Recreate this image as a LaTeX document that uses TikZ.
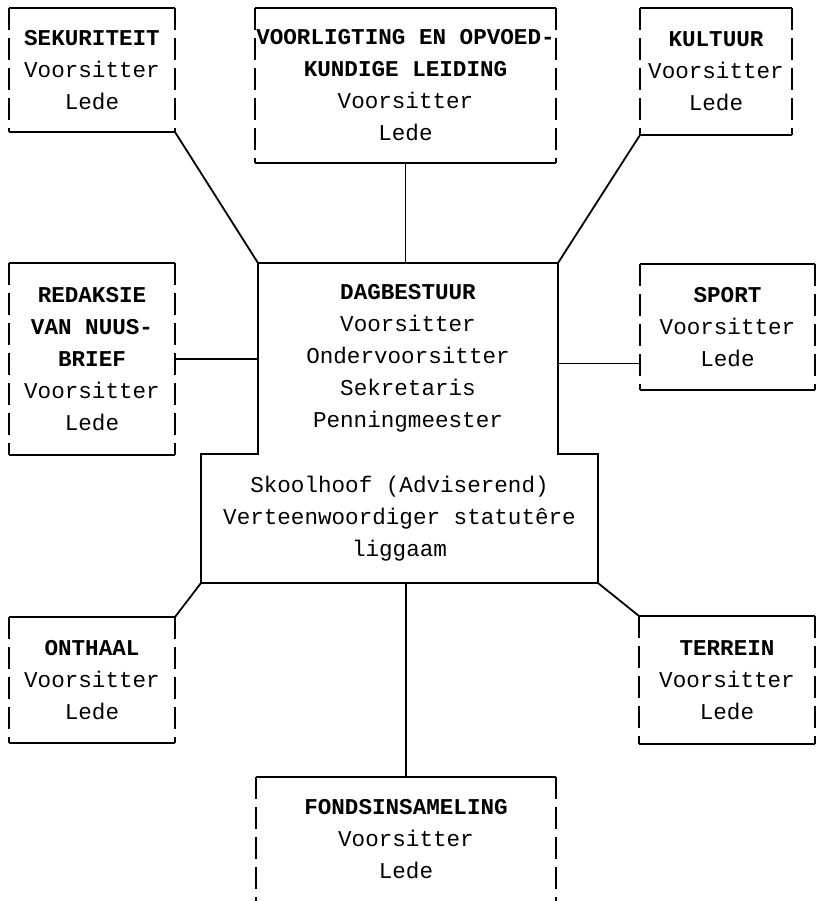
\documentclass[tikz,border=0pt]{standalone}
\usepackage{fontspec}
\setmonofont{Liberation Mono}
\usepackage{tikz}
\usetikzlibrary{calc}

\begin{document}
\begin{tikzpicture}[x=0.5pt, y=-0.5pt, line width=0.9pt,
	komitee/.style={inner sep=0pt, outer sep=0pt, align=center, font=\ttfamily\fontsize{11.3}{16}\selectfont},
	zijkant/.style={dash pattern=on 11pt off 4pt}]
				\useasboundingbox (0,0) rectangle (817,901);
				% komitees
				\node[komitee, minimum width=83pt, minimum height=62pt] (sek) at(92,70){\textbf{SEKURITEIT}\\Voorsitter\\Lede};
				\node[komitee, minimum width=150.5pt, minimum height=77.5pt] (voor) at(405.5,85.5){\textbf{VOORLIGTING EN OPVOED-}\\\textbf{KUNDIGE LEIDING}\\Voorsitter\\Lede};
				\node[komitee, minimum width=76pt, minimum height=63.5pt] (kult) at(716,71.5){\textbf{KULTUUR}\\Voorsitter\\Lede};
				\node[komitee, minimum width=83pt, minimum height=96pt] (red) at(92,359){\textbf{REDAKSIE}\\\textbf{VAN NUUS-}\\\textbf{BRIEF}\\Voorsitter\\Lede};
				\node[komitee, minimum width=87.5pt, minimum height=63pt] (sport) at(727.5,327){\textbf{SPORT}\\Voorsitter\\Lede};
				\node[komitee, minimum width=83pt, minimum height=63pt] (ont) at(92,680){\textbf{ONTHAAL}\\Voorsitter\\Lede};
				\node[komitee, minimum width=88pt, minimum height=64pt] (ter) at(727,680){\textbf{TERREIN}\\Voorsitter\\Lede};
				\node[komitee, minimum width=150pt, minimum height=62pt] (fonds) at(406,839){\textbf{FONDSINSAMELING}\\Voorsitter\\Lede};
				% dagbestuur
				\node[komitee, minimum width=150pt, minimum height=95.5pt] (dag) at(408,358.5){\textbf{DAGBESTUUR}\\Voorsitter\\Ondervoorsitter\\Sekretaris\\Penningmeester};
				\node[komitee, minimum width=198.5pt, minimum height=64.5pt] (raad) at(399.5,518.5){Skoolhoof (Adviserend)\\Verteenwoordiger statutêre\\liggaam};
				\draw (dag.north west) -- (dag.north east) -- (dag.south east) -- (raad.north east) -- (raad.south east) -- (raad.south west) -- (raad.north west) -- (dag.south west) -- cycle;
				% kaders
				\foreach \k in {sek,voor,kult,red,sport,ont,ter}{
					\draw (\k.north west) -- (\k.north east);
					\draw (\k.south west) -- (\k.south east);
					\draw[zijkant] (\k.north west) -- (\k.south west);
					\draw[zijkant] (\k.north east) -- (\k.south east);
				}
				\draw (fonds.north west) -- (fonds.north east);
				\draw[zijkant] (fonds.north west) -- (fonds.south west);
				\draw[zijkant] (fonds.north east) -- (fonds.south east);
				% lyne
				\coordinate (sportin) at ($(sport.south west)!0.21!(sport.north west)$);
				\draw (sek.south east) -- (dag.north west);
				\draw (kult.south west) -- (dag.north east);
				\draw (voor.south) -- (voor.south |- dag.north);
				\draw (red.east) -- (red.east -| dag.west);
				\draw (sportin) -- (sportin -| dag.east);
				\draw (ont.north east) -- (raad.south west);
				\draw (ter.north west) -- (raad.south east);
				\draw (fonds.north) -- (fonds.north |- raad.south);
			\end{tikzpicture}
\end{document}
